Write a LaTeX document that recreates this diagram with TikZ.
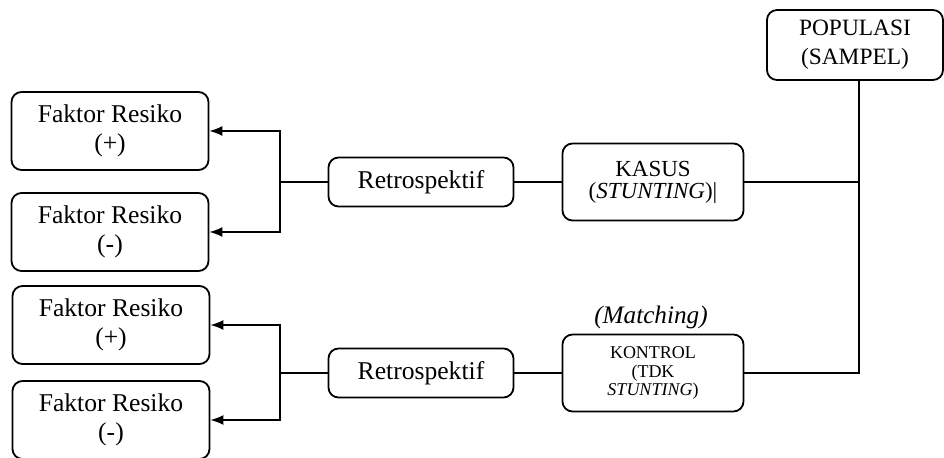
\documentclass[tikz,border=0pt]{standalone}
\usepackage{fontspec}
\setmainfont{Liberation Serif}
\usetikzlibrary{arrows.meta}

\begin{document}
\begin{tikzpicture}[x=0.5pt, y=-0.5pt, line width=0.8pt,
  box/.style={draw, rounded corners=5pt, align=center, inner sep=1pt, line width=0.9pt},
  faktor/.style={box, minimum width=98.5pt, minimum height=39pt, font=\fontsize{12.8}{14.5}\selectfont},
  retro/.style={box, minimum width=92.5pt, minimum height=24.5pt, font=\fontsize{12.8}{14.5}\selectfont},
  grup/.style={box, minimum width=90.5pt, minimum height=38.5pt},
  arr/.style={-{Latex[length=6.5pt,width=5pt]}}]

    \useasboundingbox (0,0) rectangle (944,458);

    % Define the boxes (nodes)
    \node[box, minimum width=88pt, minimum height=35pt, font=\fontsize{11.7}{14.5}\selectfont] (pop) at (855,45) {POPULASI\\(SAMPEL)}; % population
    \node[grup, font=\fontsize{11.5}{11}\selectfont] (kasus) at (653,182) {KASUS\\(\textit{STUNTING})|}; % cases
    \node[grup, font=\fontsize{9}{9.4}\selectfont] (kontrol) at (653,373) {KONTROL\\(TDK\\\textit{STUNTING})}; % controls
    \node[font=\fontsize{12.6}{13}\selectfont\itshape] (match) at (651,317) {(Matching)};
    \node[retro] (retro1) at (421,182) {Retrospektif};
    \node[retro] (retro2) at (421,373) {Retrospektif};
    \node[faktor] (f1) at (110,131) {Faktor Resiko\\(+)};
    \node[faktor] (f2) at (110,232) {Faktor Resiko\\(-)};
    \node[faktor] (f3) at (111,325) {Faktor Resiko\\(+)};
    \node[faktor] (f4) at (111,420) {Faktor Resiko\\(-)};

    % Junction points
    \coordinate (ptop) at (859,80);
    \coordinate (j1) at (280,182);
    \coordinate (j2) at (280,373);

    % Define the connectors (edges)
    \draw (ptop) |- (kontrol.east);
    \draw (kasus.east) -- (kasus.east -| ptop);
    \draw (retro1.east) -- (kasus.west);
    \draw (retro2.east) -- (kontrol.west);
    \draw (retro1.west) -- (j1);
    \draw (retro2.west) -- (j2);
    \draw[arr] (j1) |- (f1.east);
    \draw[arr] (j1) |- (f2.east);
    \draw[arr] (j2) |- (f3.east);
    \draw[arr] (j2) |- (f4.east);

\end{tikzpicture}
\end{document}
